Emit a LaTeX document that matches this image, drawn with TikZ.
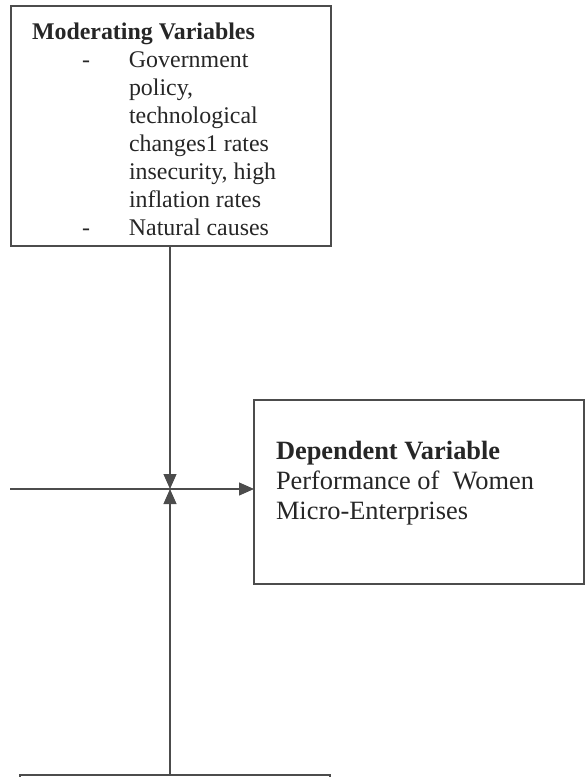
\documentclass[tikz,border=0pt]{standalone}
\usepackage{fontspec}
\setmainfont{Liberation Serif}
\usetikzlibrary{arrows.meta}

\begin{document}
\begin{tikzpicture}[x=1pt,y=-1pt,line width=1.2pt,color=black!70,text=black!85,
    var box/.style={rectangle,draw,anchor=north west,inner ysep=0pt,outer sep=0pt},
    flow/.style={-{Triangle[length=15pt,width=13pt]}}]
    \useasboundingbox (0,0) rectangle (586,777);
    \node [var box,inner xsep=21pt] (moderating) at (11,6) {\parbox[c][240pt][t]{278pt}{\fontsize{23.9pt}{28pt}\selectfont
        \vspace*{16.7pt}\textbf{Moderating Variables}\\
        \hspace*{50pt}\makebox[47pt][l]{-}Government\\
        \hspace*{97pt}policy,\\
        \hspace*{97pt}technological\\
        \hspace*{97pt}changes1 rates\\
        \hspace*{97pt}insecurity, high\\
        \hspace*{97pt}inflation rates\\
        \hspace*{50pt}\makebox[47pt][l]{-}Natural causes}};
    \node [var box,inner xsep=22pt] (dependent) at (254,400) {\parbox[c][184pt][t]{286pt}{\fontsize{26.4pt}{30pt}\selectfont
        \vspace*{41pt}\textbf{Dependent Variable}\\
        Performance of\ \ Women\\
        Micro-Enterprises}};
    \node [var box,inner xsep=0pt,minimum width=310pt,minimum height=100pt] (independent) at (20,775) {};
    \coordinate (source) at (10,489);
    \coordinate (junction) at (170,489);
    \draw [flow] (source) -- (source -| dependent.west);
    \draw [flow] (moderating.south -| junction) -- (junction);
    \draw [flow] (independent.north -| junction) -- (junction);
\end{tikzpicture}
\end{document}
